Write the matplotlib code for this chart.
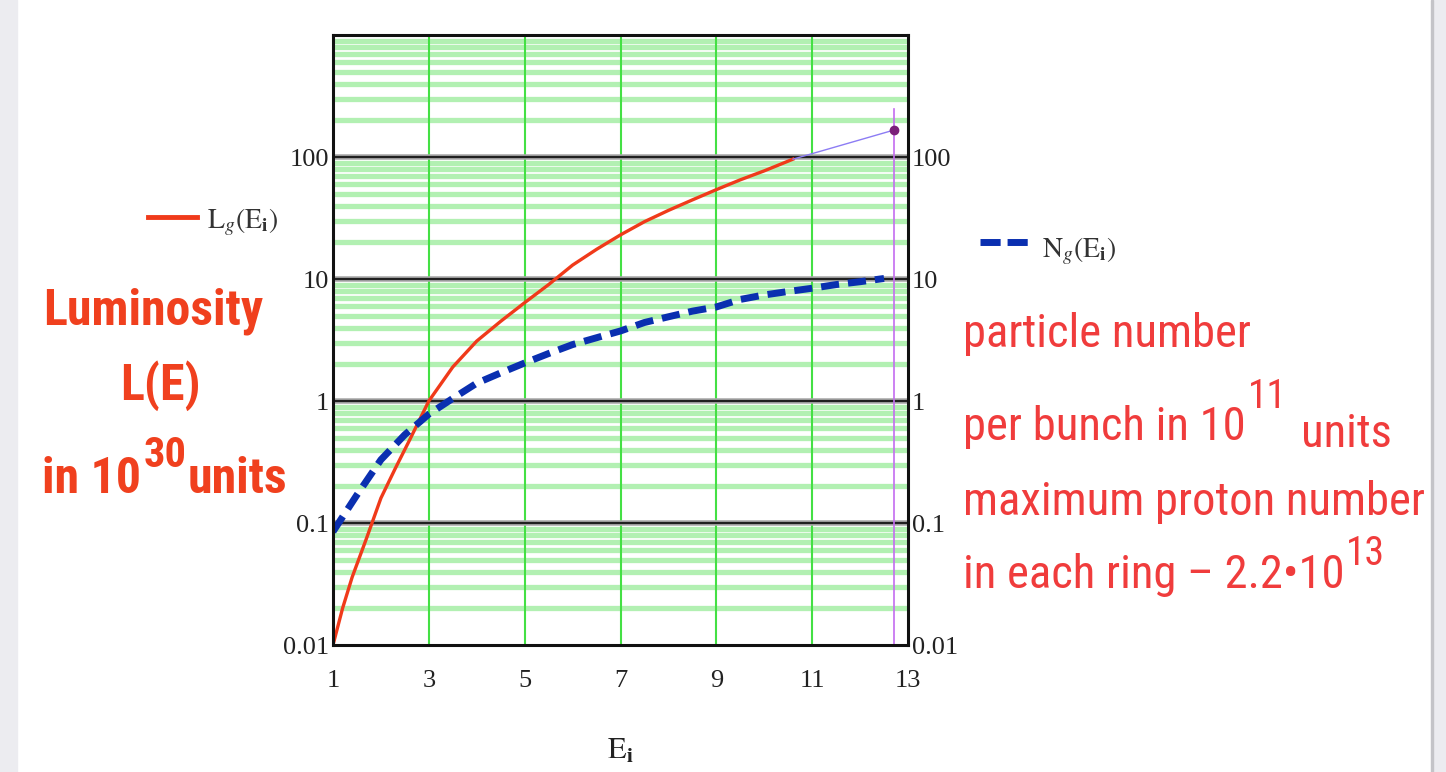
import os
import numpy as np
import matplotlib
matplotlib.use('Agg')
import matplotlib.pyplot as plt
from matplotlib import font_manager
from matplotlib.patches import Rectangle

# luminosity L(E), 10^30 units
E_lum = [1.0, 1.2, 1.4, 1.7, 2.0, 2.3, 2.6, 3.0, 3.5, 4.0, 4.5, 5.0, 5.5,
         6.0, 6.5, 7.0, 7.5, 8.0, 8.5, 9.0, 9.5, 10.0, 10.6]
L_lum = [0.010, 0.020, 0.036, 0.075, 0.16, 0.28, 0.48, 1.0, 1.9, 3.1, 4.5, 6.4, 9.0,
         13.0, 17.5, 23.0, 29.5, 36.5, 44.5, 54.0, 65.0, 77.0, 96.0]

# trace segment up to the cursor
E_trace = [10.6, 12.7]
L_trace = [96.0, 166.0]
E_cursor = 12.7

# particles per bunch, 10^11 units
E_num = [1.0, 1.5, 2.0, 2.5, 3.0, 3.5, 4.0, 4.5, 5.0, 5.5, 6.0, 6.5, 7.0, 7.5,
         8.0, 8.5, 9.0, 9.5, 10.0, 10.5, 11.0, 11.5, 12.0, 12.5]
N_num = [0.085, 0.17, 0.33, 0.53, 0.78, 1.05, 1.4, 1.7, 2.05, 2.45, 2.9, 3.3, 3.75, 4.4,
         4.9, 5.45, 5.9, 6.8, 7.4, 7.9, 8.4, 9.0, 9.5, 10.1]

x_ticks = [1, 3, 5, 7, 9, 11, 13]
y_ticks = [0.01, 0.1, 1, 10, 100]
y_labels = ['0.01', '0.1', '1', '10', '100']

W, H = 1446, 772


def narrow_font(bold):
    # look for a condensed sans face, plain Liberation Sans otherwise
    want = 700 if bold else 400
    prefs = ['Liberation Sans Narrow', 'Roboto Condensed', 'Open Sans Condensed',
             'Noto Sans', 'Open Sans', 'DejaVu Sans']
    for fam in prefs:
        for f in font_manager.fontManager.ttflist:
            base = os.path.basename(f.fname)
            squeezed = 'Narrow' in base or 'Condensed' in base
            odd = 'SemiCondensed' in base or 'ExtraCondensed' in base
            w = f.weight if isinstance(f.weight, int) else font_manager.weight_dict.get(f.weight, 400)
            if f.name == fam and squeezed and not odd and f.style == 'normal' and w == want:
                return font_manager.FontProperties(fname=f.fname)
    return font_manager.FontProperties(family='Liberation Sans',
                                       weight='bold' if bold else 'normal')


fp_bold = narrow_font(True)
fp_reg = narrow_font(False)
plt.rcParams['mathtext.fontset'] = 'stix'

fig = plt.figure(figsize=(W / 100, H / 100), dpi=100)
fig.patch.set_facecolor('white')
renderer = fig.canvas.get_renderer()

# side bars of the slide
fig.patches.append(Rectangle((0, 0), 17 / W, 1, transform=fig.transFigure,
                             color='#ececf0', zorder=0))
fig.patches.append(Rectangle((1433 / W, 0), 13 / W, 1, transform=fig.transFigure,
                             color='#ececf0', zorder=0))
fig.patches.append(Rectangle((1431 / W, 0), 2 / W, 1, transform=fig.transFigure,
                             color='#c4c4c8', zorder=0))

ax = fig.add_axes([333 / W, 1 - 645 / H, 575 / W, 610 / H])
ax.set_yscale('log')
ax.set_xlim(1, 13)
ax.set_ylim(0.01, 1000)

# grid: light green minor lines, green verticals, dark decade lines
for dec in [0.01, 0.1, 1, 10, 100]:
    for k in range(2, 10):
        ax.axhline(dec * k, color='#b2f0b2', lw=3.8, zorder=1)
for x in [3, 5, 7, 9, 11]:
    ax.axvline(x, color='#44e044', lw=1.5, zorder=2)
for dec in [0.1, 1, 10, 100]:
    ax.axhline(dec, color='#a8a8a8', lw=4.0, zorder=2)
    ax.axhline(dec, color='#202020', lw=1.6, zorder=2)

ax.plot(E_lum, L_lum, color='#f03a1a', lw=2.4, zorder=4)
ax.plot(E_trace, L_trace, color='#8c7cf4', lw=1.0, zorder=4)
ax.plot([E_trace[-1]], [L_trace[-1]], 'o', color='#7a1f7a', ms=6, zorder=5)
ax.axvline(E_cursor, ymax=(np.log10(247) + 2) / 5, color='#c46cf0', lw=1.2, zorder=3)
ax.plot(E_num, N_num, color='#0a2fb0', lw=5, linestyle=(0, (2.6, 1.3)),
        dash_capstyle='butt', zorder=5)

for s in ax.spines.values():
    s.set_color('#111111')
    s.set_linewidth(2.2)
    s.set_zorder(6)

ax.set_xticks(x_ticks)
ax.set_xticklabels([str(v) for v in x_ticks])
ax.set_yticks(y_ticks)
ax.set_yticklabels(y_labels)
ax.yaxis.set_minor_locator(matplotlib.ticker.NullLocator())
ax.tick_params(axis='both', length=0, labelsize=19, labelcolor='#222222')
ax.tick_params(axis='x', pad=18)
ax.tick_params(axis='y', pad=3, labelright=True)
for lab in ax.get_xticklabels() + ax.get_yticklabels():
    lab.set_family('Liberation Serif')

ax.set_xlabel(r'$\mathrm{E}_{\mathbf{i}}$', fontsize=22, color='#222222', labelpad=32)


def ftext(x, y, s, **kw):
    return fig.text(x / W, 1 - y / H, s, va='baseline', **kw)


def right_px(t):
    return t.get_window_extent(renderer).x1


def fit_size(fp, s, width):
    # font size (pt) that makes s span `width` pixels
    probe = fig.text(0, 0, s, fontproperties=fp, fontsize=20)
    w = probe.get_window_extent(renderer).width
    probe.remove()
    return 20 * width / w


# legend entries
fig.add_artist(plt.Line2D([148 / W, 197 / W], [1 - 217 / H, 1 - 217 / H],
                          color='#f03a1a', lw=3.5))
ftext(207, 228, r'$\mathrm{L}_{g}\left(\mathrm{E}_{\mathbf{i}}\right)$',
      fontsize=20, color='#333333')
fig.add_artist(plt.Line2D([980 / W, 1028 / W], [1 - 242 / H, 1 - 242 / H],
                          color='#0a2fb0', lw=5, linestyle=(0, (2.9, 1.0))))
ftext(1042, 257, r'$\mathrm{N}_{g}\left(\mathrm{E}_{\mathbf{i}}\right)$',
      fontsize=20, color='#333333')

# left annotation
red = '#f0401e'
bsz = fit_size(fp_bold, 'Luminosity', 220)
ftext(153, 325, 'Luminosity', fontproperties=fp_bold, fontsize=bsz, color=red, ha='center')
ftext(160, 400, 'L(E)', fontproperties=fp_bold, fontsize=bsz, color=red, ha='center')
t = ftext(42, 493, 'in 10', fontproperties=fp_bold, fontsize=bsz, color=red)
sup = ftext(right_px(t) + 3, 467, '30', fontproperties=fp_bold, fontsize=bsz * 0.85, color=red)
ftext(right_px(sup) + 1, 493, 'units', fontproperties=fp_bold, fontsize=bsz, color=red)

# right annotation
red2 = '#f03c3c'
rsz = fit_size(fp_reg, 'maximum proton number', 462)
ftext(963, 347, 'particle number', fontproperties=fp_reg, fontsize=rsz, color=red2)
t = ftext(963, 440, 'per bunch in 10', fontproperties=fp_reg, fontsize=rsz, color=red2)
sup = ftext(right_px(t) + 2, 408, '11', fontproperties=fp_reg, fontsize=rsz * 0.85, color=red2)
ftext(right_px(sup) + 14, 447, 'units', fontproperties=fp_reg, fontsize=rsz, color=red2)
ftext(963, 515, 'maximum proton number', fontproperties=fp_reg, fontsize=rsz, color=red2)
t = ftext(963, 588, 'in each ring \u2013 2.2\u202210', fontproperties=fp_reg,
          fontsize=rsz, color=red2)
ftext(right_px(t) + 1, 565, '13', fontproperties=fp_reg, fontsize=rsz * 0.85, color=red2)

fig.savefig('out.png', dpi=100)
